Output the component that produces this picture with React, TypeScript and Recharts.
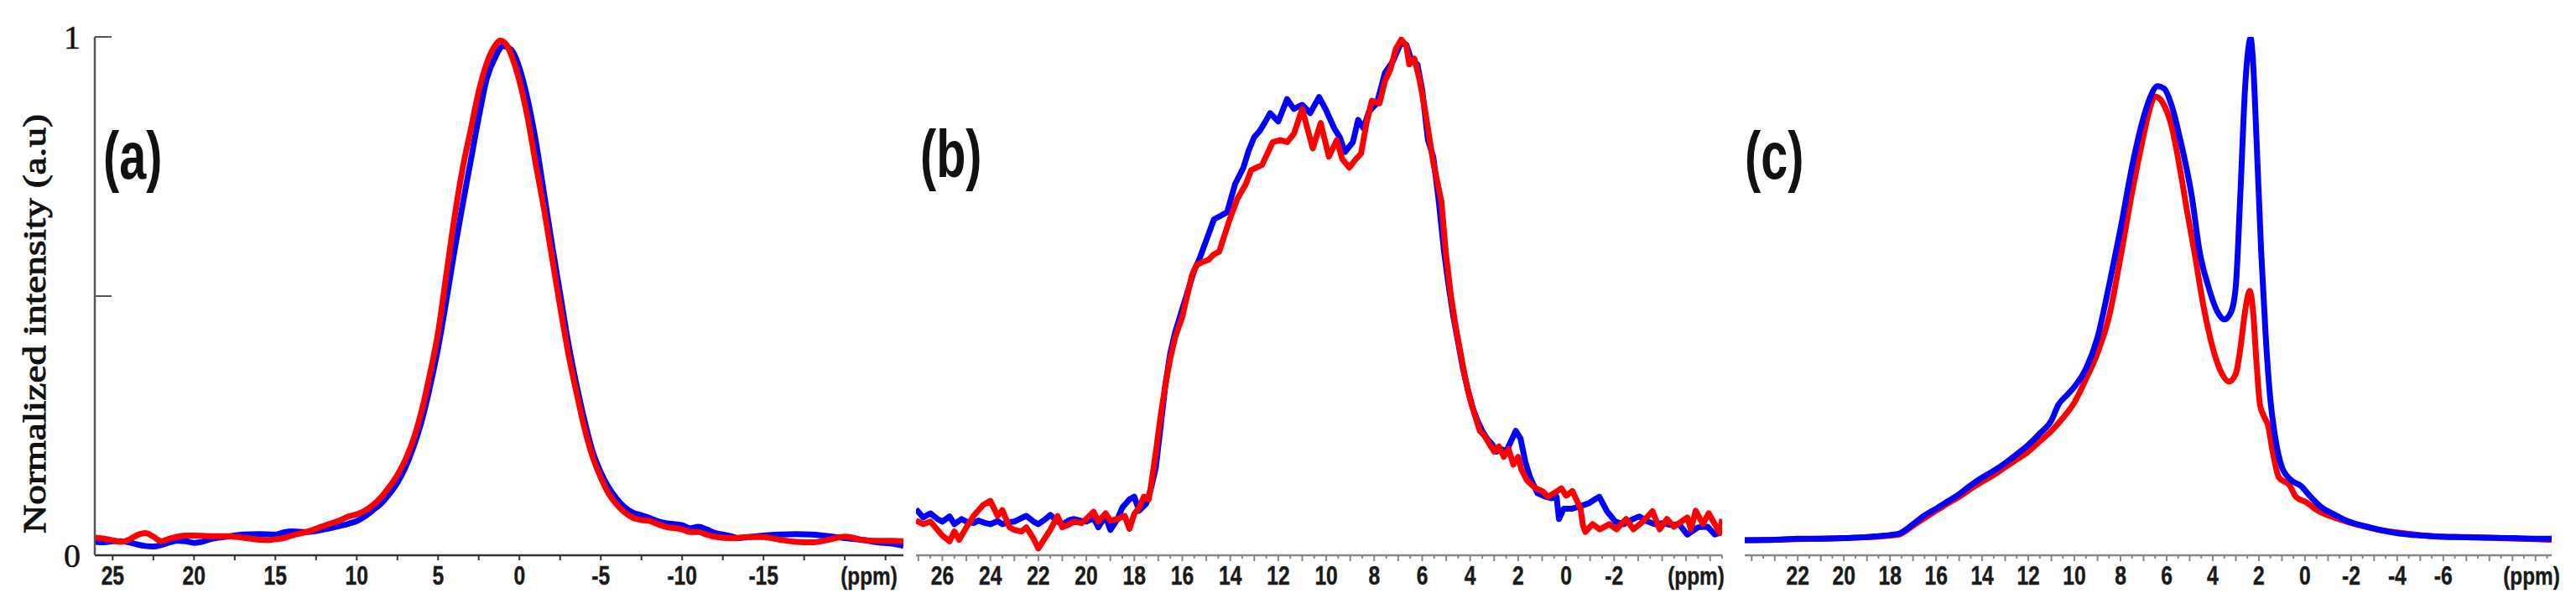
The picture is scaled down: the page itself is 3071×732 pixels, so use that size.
import React from 'react';
import { LineChart, Line, XAxis, YAxis } from 'recharts';

// ---------- Panel (a) ----------
const ppmA_blue = [
  26.1, 25.5, 25, 24.5, 24, 23.5, 23, 22.5, 22, 21.5,
  21, 20.5, 20, 19.5, 19, 18, 17, 16, 15, 14.5,
  14, 13, 12, 11, 10.5, 10, 9.5, 9, 8.5, 8,
  7.5, 7, 6.5, 6, 5.5, 5, 4.5, 4, 3.5, 3,
  2.5, 2, 1.5, 1, 0.5, 0, -0.5, -1, -1.5, -2,
  -2.5, -3, -3.5, -4, -4.5, -5, -5.5, -6, -6.5, -7,
  -7.5, -8, -8.5, -9, -10, -10.5, -11, -11.5, -12, -12.5,
  -13, -13.5, -14, -15, -16, -17, -18, -19, -20, -21,
  -22, -23, -23.6,
];
const intA_blue = [
  0.026, 0.025, 0.027, 0.027, 0.025, 0.021, 0.018, 0.017, 0.02, 0.025,
  0.028, 0.027, 0.024, 0.026, 0.031, 0.036, 0.04, 0.041, 0.04, 0.044,
  0.046, 0.045, 0.05, 0.057, 0.061, 0.066, 0.075, 0.087, 0.1, 0.118,
  0.14, 0.17, 0.21, 0.26, 0.325, 0.4, 0.49, 0.586, 0.675, 0.76,
  0.845, 0.92, 0.96, 0.982, 0.975, 0.94, 0.88, 0.8, 0.7, 0.6,
  0.505, 0.41, 0.33, 0.26, 0.2, 0.16, 0.13, 0.108, 0.092, 0.082,
  0.077, 0.072, 0.066, 0.062, 0.058, 0.052, 0.055, 0.05, 0.043, 0.04,
  0.037, 0.033, 0.035, 0.038, 0.04, 0.041, 0.04, 0.037, 0.033, 0.03,
  0.025, 0.022, 0.018,
];
const ppmA_red = [
  26.1, 25.5, 25, 24.5, 24, 23.5, 23, 22.5, 22, 21.5,
  21, 20.5, 20, 19, 18, 17, 16, 15.5, 15, 14.5,
  14, 13, 12, 11, 10.5, 10, 9.5, 9, 8.5, 8,
  7.5, 7, 6.5, 6, 5.5, 5, 4.5, 4, 3.5, 3,
  2.5, 2, 1.5, 1.2, 0.8, 0.5, 0, -0.5, -1, -1.5,
  -2, -2.5, -3, -3.5, -4, -4.5, -5, -5.5, -6, -6.5,
  -7, -7.5, -8, -8.5, -9, -10, -10.5, -11, -11.5, -12,
  -13, -14, -15, -16, -17, -18, -19, -20, -20.5, -21,
  -22, -23, -23.6,
];
const intA_red = [
  0.034, 0.032, 0.029, 0.026, 0.03, 0.039, 0.043, 0.036, 0.027, 0.032,
  0.036, 0.038, 0.038, 0.037, 0.037, 0.034, 0.03, 0.029, 0.031, 0.033,
  0.038, 0.046, 0.057, 0.068, 0.075, 0.079, 0.086, 0.097, 0.112, 0.132,
  0.155, 0.185, 0.225, 0.28, 0.35, 0.43, 0.54, 0.65, 0.745, 0.82,
  0.895, 0.95, 0.983, 0.993, 0.985, 0.965, 0.915, 0.845, 0.755, 0.67,
  0.575, 0.48, 0.39, 0.315, 0.245, 0.19, 0.15, 0.118, 0.097, 0.082,
  0.072, 0.068, 0.066, 0.06, 0.055, 0.05, 0.045, 0.045, 0.04, 0.036,
  0.033, 0.035, 0.035, 0.03, 0.026, 0.025, 0.03, 0.036, 0.034, 0.03,
  0.028, 0.028, 0.027,
];

// ---------- Panel (b) ----------
const ppmB_blue = [
  27.1, 26.8, 26.5, 26.2, 26, 25.7, 25.5, 25.2, 25, 24.7,
  24.5, 24.2, 24, 23.7, 23.5, 23.2, 23, 22.7, 22.5, 22.2,
  22, 21.7, 21.5, 21.2, 21, 20.7, 20.5, 20.2, 20, 19.7,
  19.5, 19.2, 19, 18.7, 18.5, 18.2, 18, 17.8, 17.5, 17.3,
  17.1, 16.9, 16.7, 16.5, 16.3, 16.1, 15.9, 15.7, 15.5, 15.3,
  15.1, 14.9, 14.68, 14.4, 14.13, 13.8, 13.45, 13.24, 13, 12.78,
  12.57, 12.34, 12, 11.63, 11.35, 11, 10.67, 10.3, 10, 9.67,
  9.44, 9.22, 8.89, 8.67, 8.45, 8.22, 7.89, 7.55, 7.22, 6.87,
  6.66, 6.43, 6.2, 6, 5.76, 5.54, 5.31, 5.09, 4.9, 4.7,
  4.5, 4.3, 4.1, 3.9, 3.7, 3.5, 3.3, 3.1, 2.9, 2.7,
  2.5, 2.3, 2.1, 1.9, 1.7, 1.5, 1.2, 0.87, 0.6, 0.4,
  0.3, 0.1, -0.25, -0.6, -0.93, -1.2, -1.38, -1.7, -2.05, -2.4,
  -2.7, -3.05, -3.4, -3.7, -4, -4.4, -4.7, -5.05, -5.5, -5.9,
  -6.2, -6.5,
];
const intB_blue = [
  0.089, 0.073, 0.081, 0.07, 0.065, 0.075, 0.06, 0.07, 0.065, 0.062,
  0.067, 0.062, 0.06, 0.066, 0.06, 0.064, 0.065, 0.072, 0.076, 0.065,
  0.06, 0.07, 0.078, 0.065, 0.06, 0.068, 0.07, 0.066, 0.065, 0.072,
  0.054, 0.076, 0.049, 0.07, 0.092, 0.108, 0.113, 0.086, 0.1, 0.13,
  0.17, 0.25, 0.33, 0.39, 0.43, 0.46, 0.49, 0.52, 0.55, 0.57,
  0.595, 0.62, 0.648, 0.655, 0.662, 0.716, 0.748, 0.78, 0.807, 0.818,
  0.834, 0.853, 0.837, 0.88, 0.861, 0.869, 0.853, 0.884, 0.858, 0.824,
  0.807, 0.778, 0.797, 0.84, 0.824, 0.856, 0.872, 0.931, 0.953, 0.99,
  0.985, 0.953, 0.947, 0.898, 0.801, 0.769, 0.683, 0.586, 0.52, 0.46,
  0.41, 0.36, 0.32, 0.285, 0.26, 0.24, 0.225, 0.215, 0.2, 0.205,
  0.2, 0.22, 0.24, 0.225, 0.18, 0.15, 0.12, 0.113, 0.11, 0.113,
  0.07, 0.09, 0.09, 0.095, 0.1, 0.108, 0.113, 0.085, 0.065, 0.06,
  0.068, 0.075, 0.065, 0.06, 0.062, 0.058, 0.06, 0.04, 0.054, 0.055,
  0.04, 0.045,
];
const ppmB_red = [
  27.1, 26.8, 26.5, 26.2, 26, 25.7, 25.5, 25.3, 25, 24.7,
  24.3, 24, 23.7, 23.5, 23.2, 23, 22.7, 22.5, 22.2, 22,
  21.7, 21.5, 21.2, 21, 20.7, 20.5, 20.2, 20, 19.7, 19.5,
  19.2, 19, 18.7, 18.4, 18.2, 18, 17.8, 17.6, 17.4, 17.3,
  17.1, 16.9, 16.7, 16.5, 16.3, 16, 15.8, 15.6, 15.4, 15.2,
  14.9, 14.7, 14.46, 14.23, 14, 13.7, 13.35, 13.13, 12.68, 12.23,
  11.9, 11.63, 11.35, 11, 10.79, 10.56, 10.23, 9.89, 9.56, 9.33,
  9.04, 8.77, 8.55, 8.32, 8.1, 7.78, 7.55, 7.33, 7.1, 6.87,
  6.66, 6.54, 6.32, 6.1, 5.87, 5.54, 5.2, 5.02, 4.8, 4.6,
  4.4, 4.2, 4, 3.8, 3.6, 3.4, 3.2, 3, 2.8, 2.6,
  2.4, 2.2, 2, 1.87, 1.64, 1.3, 0.97, 0.76, 0.5, 0.2,
  0, -0.26, -0.6, -0.7, -0.8, -1.1, -1.4, -1.8, -2.1, -2.5,
  -2.8, -3.2, -3.6, -3.9, -4.2, -4.5, -4.8, -5.05, -5.2, -5.4,
  -5.7, -5.94, -6.2, -6.4, -6.5,
];
const intB_red = [
  0.067, 0.06, 0.065, 0.049, 0.038, 0.027, 0.046, 0.03, 0.054, 0.076,
  0.097, 0.105, 0.076, 0.087, 0.054, 0.049, 0.046, 0.054, 0.032, 0.013,
  0.035, 0.049, 0.076, 0.054, 0.06, 0.065, 0.062, 0.07, 0.084, 0.065,
  0.081, 0.067, 0.07, 0.076, 0.051, 0.08, 0.092, 0.113, 0.108, 0.135,
  0.2, 0.27, 0.33, 0.38, 0.42, 0.46, 0.5, 0.54, 0.56, 0.565,
  0.57, 0.58, 0.586, 0.619, 0.651, 0.688, 0.716, 0.743, 0.753, 0.797,
  0.801, 0.797, 0.813, 0.861, 0.824, 0.785, 0.834, 0.769, 0.801, 0.764,
  0.748, 0.764, 0.775, 0.834, 0.877, 0.872, 0.915, 0.937, 0.977, 0.995,
  0.982, 0.947, 0.958, 0.915, 0.856, 0.758, 0.683, 0.586, 0.5, 0.44,
  0.39, 0.34, 0.3, 0.27, 0.24, 0.23, 0.215, 0.2, 0.21, 0.19,
  0.205, 0.175, 0.19, 0.166, 0.145, 0.13, 0.123, 0.113, 0.12, 0.129,
  0.115, 0.124, 0.09, 0.058, 0.045, 0.06, 0.05, 0.06, 0.05, 0.07,
  0.05, 0.065, 0.085, 0.05, 0.07, 0.055, 0.065, 0.073, 0.05, 0.086,
  0.06, 0.081, 0.06, 0.043, 0.07,
];

// ---------- Panel (c) ----------
const ppmC_blue = [
  24.3, 23, 22, 21, 20, 19, 18.5, 18, 17.6, 17,
  16.5, 16, 15.5, 15, 14.5, 14, 13.5, 13, 12.5, 12,
  11.5, 11, 10.7, 10.3, 10, 9.5, 9, 8.5, 8, 7.5,
  7, 6.7, 6.4, 6.1, 5.8, 5.4, 4.9, 4.57, 4.2, 3.8,
  3.5, 3.2, 3, 2.8, 2.6, 2.45, 2.36, 2.25, 2.1, 1.9,
  1.7, 1.5, 1.3, 1, 0.6, 0.18, -0.2, -0.68, -1.3, -1.9,
  -2.7, -3.7, -4.5, -5.5, -6.5, -8, -9, -10, -10.7,
];
const intC_blue = [
  0.029, 0.03, 0.032, 0.032, 0.033, 0.035, 0.037, 0.039, 0.042, 0.06,
  0.077, 0.09, 0.104, 0.118, 0.135, 0.15, 0.163, 0.178, 0.195, 0.213,
  0.235, 0.26, 0.29, 0.31, 0.325, 0.36, 0.42, 0.52, 0.63, 0.75,
  0.845, 0.885, 0.905, 0.9, 0.87, 0.8, 0.69, 0.586, 0.52, 0.47,
  0.455, 0.47, 0.52, 0.7, 0.9, 0.98, 0.998, 0.95, 0.8, 0.586,
  0.42, 0.3, 0.23, 0.17, 0.145, 0.134, 0.115, 0.094, 0.078, 0.065,
  0.055, 0.045, 0.04, 0.037, 0.035, 0.034, 0.033, 0.032, 0.032,
];
const ppmC_red = [
  24.3, 23, 22, 21, 20, 19, 18.5, 18, 17.6, 17,
  16.5, 16, 15.5, 15, 14.5, 14, 13.5, 13, 12.5, 12,
  11.5, 11, 10.5, 10, 9.5, 9, 8.5, 8, 7.5, 7,
  6.8, 6.5, 6.2, 5.8, 5.4, 5.1, 4.8, 4.4, 4, 3.6,
  3.3, 3, 2.8, 2.6, 2.4, 2.25, 2.1, 1.95, 1.8, 1.6,
  1.4, 1.13, 0.65, 0.4, -0.07, -0.55, -1.27, -2.35, -3.1, -4,
  -5.5, -7, -8.5, -10, -10.7,
];
const intC_red = [
  0.029, 0.03, 0.031, 0.032, 0.033, 0.035, 0.036, 0.038, 0.04, 0.057,
  0.072, 0.086, 0.1, 0.113, 0.128, 0.142, 0.155, 0.17, 0.185, 0.2,
  0.22, 0.24, 0.265, 0.295, 0.34, 0.39, 0.46, 0.575, 0.7, 0.81,
  0.85, 0.885, 0.875, 0.83, 0.74, 0.66, 0.586, 0.48, 0.4, 0.35,
  0.335, 0.35, 0.4, 0.47, 0.51, 0.47, 0.37, 0.29, 0.27, 0.25,
  0.2, 0.15, 0.134, 0.113, 0.102, 0.086, 0.073, 0.058, 0.05, 0.044,
  0.037, 0.035, 0.033, 0.031, 0.03,
];

// ---------- Axis labels ----------
const labelsA = [25, 20, 15, 10, 5, 0, -5, -10, -15];
const labelsB = [26, 24, 22, 20, 18, 16, 14, 12, 10, 8, 6, 4, 2, 0, -2];
const labelsC = [22, 20, 18, 16, 14, 12, 10, 8, 6, 4, 2, 0, -2, -4, -6];
const yTicks = [0, 0.5, 1];
const yTickLabels: Record<string, string> = { '0': '0', '1': '1' };
const yTitle = 'Normalized intensity (a.u)';
const panelNames = ['(a)', '(b)', '(c)'];
const unitLabel = '(ppm)';

const zip = (p: number[], v: number[]) => p.map((x, i) => ({ ppm: x, v: v[i] }));

const stepTicks = (from: number, to: number, step: number) => {
  const out: number[] = [];
  const n = Math.round((from - to) / step);
  for (let i = 0; i <= n; i++) out.push(Math.round((from - i * step) * 1000) / 1000);
  return out;
};

const SANS = "'Liberation Sans', Arial, sans-serif";
const SERIF = "'Liberation Serif', 'DejaVu Serif', serif";

const fmt = (v: number) => (v < 0 ? '-' + Math.abs(v) : String(v));

const makeXTick = (labels: number[], color: string, halfLen: number, intLen: number) => (props: any) => {
  const { x, y, payload } = props;
  const v = payload.value as number;
  const isLab = labels.some((l) => Math.abs(l - v) < 1e-6);
  const isInt = Math.abs(v - Math.round(v)) < 1e-6;
  const len = isInt ? intLen : halfLen;
  return (
    <g>
      <line x1={x} x2={x} y1={y} y2={y + len} stroke={color} strokeWidth={2} />
      {isLab && (
        <text
          transform={`translate(${x},${y + 25}) scale(0.88,1.1)`}
          textAnchor="middle"
          dominantBaseline="central"
          fontFamily={SANS}
          fontWeight="bold"
          fontSize={28}
          fill="#1a1a1a"
          stroke="#1a1a1a"
          strokeWidth={0.4}
        >
          {fmt(v)}
        </text>
      )}
    </g>
  );
};

const YTick = (props: any) => {
  const { x, y, payload } = props;
  const v = payload.value as number;
  const lab = yTickLabels[String(v)];
  return (
    <g>
      {v > 0 && <line x1={x} x2={x + 20} y1={y} y2={y} stroke="#555" strokeWidth={2} />}
      {lab !== undefined && (
        <text
          x={x - 17}
          y={y}
          textAnchor="end"
          dominantBaseline="central"
          fontFamily={SERIF}
          fontSize={40}
          fill="#111"
          stroke="#111"
          strokeWidth={0.5}
        >
          {lab}
        </text>
      )}
    </g>
  );
};

const H = 732;
const MARGIN_TOP = 44;
const XAX_H = 50;
const MARGIN_BOTTOM = 20;

type PanelProps = {
  left: number;
  width: number;
  marginLeft: number;
  domain: [number, number];
  ticks: number[];
  tick: any;
  axisColor: string;
  showY: boolean;
  blue: { ppm: number; v: number }[];
  red: { ppm: number; v: number }[];
  blueOnTop: boolean;
  curve: 'monotone' | 'linear';
};

const Panel = (p: PanelProps) => {
  const blueLine = (
    <Line
      key="blue"
      data={p.blue}
      dataKey="v"
      type={p.curve}
      stroke="#0000ff"
      strokeWidth={7}
      dot={false}
      activeDot={false}
      isAnimationActive={false}
      strokeLinejoin="round"
    />
  );
  const redLine = (
    <Line
      key="red"
      data={p.red}
      dataKey="v"
      type={p.curve}
      stroke="#ff0000"
      strokeWidth={7}
      dot={false}
      activeDot={false}
      isAnimationActive={false}
      strokeLinejoin="round"
    />
  );
  return (
    <div style={{ position: 'absolute', left: p.left, top: 0 }}>
      <LineChart
        width={p.width}
        height={H}
        margin={{ top: MARGIN_TOP, right: 30, bottom: MARGIN_BOTTOM, left: p.marginLeft }}
      >
        <XAxis
          type="number"
          dataKey="ppm"
          domain={p.domain}
          reversed
          allowDataOverflow
          ticks={p.ticks}
          interval={0}
          height={XAX_H}
          axisLine={{ stroke: p.axisColor, strokeWidth: 2.5 }}
          tickLine={false}
          tickSize={0}
          tickMargin={0}
          tick={p.tick}
        />
        <YAxis
          type="number"
          domain={[0, 1]}
          allowDataOverflow
          ticks={yTicks}
          interval={0}
          hide={!p.showY}
          width={p.showY ? 113 : 0}
          axisLine={{ stroke: '#555', strokeWidth: 2.5 }}
          tickLine={false}
          tickSize={0}
          tickMargin={0}
          tick={YTick}
        />
        {p.blueOnTop ? [redLine, blueLine] : [blueLine, redLine]}
      </LineChart>
    </div>
  );
};

export default function App() {
  const dA_b = zip(ppmA_blue, intA_blue);
  const dA_r = zip(ppmA_red, intA_red);
  const dB_b = zip(ppmB_blue, intB_blue);
  const dB_r = zip(ppmB_red, intB_red);
  const dC_b = zip(ppmC_blue, intC_blue);
  const dC_r = zip(ppmC_red, intC_red);

  const ticksA = stepTicks(25, -22.5, 2.5);
  const ticksB = stepTicks(27, -6.5, 0.5);
  const ticksC = stepTicks(24, -10.5, 0.5);

  const panelLabelPos = [
    { x: 123, y: 213 },
    { x: 1097, y: 211 },
    { x: 2080, y: 213 },
  ];
  const unitPos = [1036, 2022, 3018];

  return (
    <div style={{ position: 'absolute', left: 0, top: 0, width: 3071, height: 732, background: '#fff', overflow: 'hidden' }}>
      <Panel
        left={0}
        width={1107}
        marginLeft={0}
        domain={[-23.6, 26.1]}
        ticks={ticksA}
        tick={makeXTick(labelsA, '#333', 6, 6)}
        axisColor="#333"
        showY
        blue={dA_b}
        red={dA_r}
        blueOnTop={false}
        curve="monotone"
      />
      <Panel
        left={1062}
        width={1021}
        marginLeft={30}
        domain={[-6.5, 27.1]}
        ticks={ticksB}
        tick={makeXTick(labelsB, '#888', 4, 7)}
        axisColor="#888"
        showY={false}
        blue={dB_b}
        red={dB_r}
        blueOnTop={false}
        curve="linear"
      />
      <Panel
        left={2050}
        width={1022}
        marginLeft={30}
        domain={[-10.7, 24.3]}
        ticks={ticksC}
        tick={makeXTick(labelsC, '#888', 4, 7)}
        axisColor="#888"
        showY={false}
        blue={dC_b}
        red={dC_r}
        blueOnTop
        curve="monotone"
      />
      <svg width={3071} height={732} style={{ position: 'absolute', left: 0, top: 0, pointerEvents: 'none' }}>
        <text
          transform="translate(54,386) rotate(-90)"
          textAnchor="middle"
          fontFamily={SERIF}
          fontSize={38}
          fill="#111"
          stroke="#111"
          strokeWidth={1}
          textLength={500}
          lengthAdjust="spacingAndGlyphs"
        >
          {yTitle}
        </text>
        {panelNames.map((n, i) => (
          <text
            key={n}
            transform={`translate(${panelLabelPos[i].x},${panelLabelPos[i].y}) scale(0.72,1)`}
            fontFamily={SANS}
            fontWeight="bold"
            fontSize={80}
            fill="#111"
          >
            {n}
          </text>
        ))}
        {unitPos.map((x, i) => (
          <text
            key={i}
            transform={`translate(${x},687) scale(0.9,1.1)`}
            textAnchor="middle"
            dominantBaseline="central"
            fontFamily={SANS}
            fontWeight="bold"
            fontSize={27}
            fill="#1a1a1a"
            stroke="#1a1a1a"
            strokeWidth={0.4}
          >
            {unitLabel}
          </text>
        ))}
      </svg>
    </div>
  );
}
